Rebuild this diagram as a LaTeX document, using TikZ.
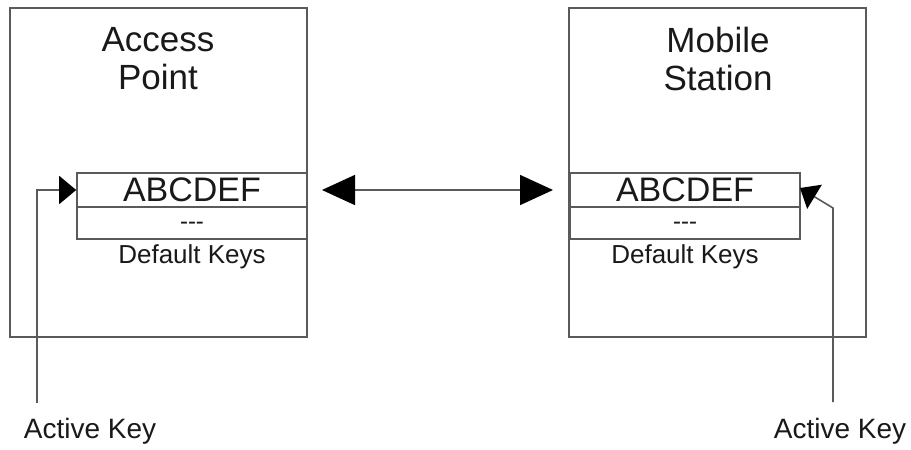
\documentclass[tikz,border=0pt]{standalone}
\usepackage{fontspec}
\setmainfont{Liberation Sans}
\usetikzlibrary{arrows.meta}
\definecolor{ln}{HTML}{5A5A5A}
\tikzset{
  box/.style={draw=ln, line width=1.6pt, inner sep=0pt},
  row/.style={draw=ln, line width=1.6pt, inner sep=0pt, minimum width=230pt},
  lbl/.style={inner sep=0pt, text=black!90},
  conn/.style={draw=ln, line width=1.6pt},
  tipS/.style={-{Triangle[length=17pt,width=28pt,black]}},
  tipB/.style={{Triangle[length=33pt,width=30pt,black]}-{Triangle[length=33pt,width=30pt,black]}}
}
\begin{document}
\begin{tikzpicture}[x=1pt,y=-1pt]
\useasboundingbox (0,0) rectangle (911,450);
% outer boxes
\node[box, minimum width=297pt, minimum height=329pt] (ap) at (158.5,172.5) {};
\node[box, minimum width=297pt, minimum height=329pt] (ms) at (717.5,172.5) {};
% titles
\node[lbl, font=\fontsize{35}{38}\selectfont, align=center] (apt) at (158,59) {Access\\Point};
\node[lbl, font=\fontsize{35}{38}\selectfont, align=center] (mst) at (718,59) {Mobile\\Station};
% key tables
\node[row, minimum height=34pt] (apk) at (192,190) {};
\node[row, minimum height=32pt] (apd) at (192,223) {};
\node[lbl, font=\fontsize{34}{34}\selectfont] (apkt) at (192,190) {ABCDEF};
\node[lbl, font=\fontsize{24}{24}\selectfont] (apdt) at (192,226) {-{}-{}-};
\node[lbl, font=\fontsize{26}{26}\selectfont] (apdl) at (192,257) {Default Keys};
\node[row, minimum height=34pt] (msk) at (685,190) {};
\node[row, minimum height=32pt] (msd) at (685,223) {};
\node[lbl, font=\fontsize{34}{34}\selectfont] (mskt) at (685,190) {ABCDEF};
\node[lbl, font=\fontsize{24}{24}\selectfont] (msdt) at (685,226) {-{}-{}-};
\node[lbl, font=\fontsize{26}{26}\selectfont] (msdl) at (685,257) {Default Keys};
% active key labels
\node[lbl, font=\fontsize{28}{28}\selectfont] (akl) at (90,431) {Active Key};
\node[lbl, font=\fontsize{28}{28}\selectfont] (akr) at (840,431) {Active Key};
% connectors
\coordinate (bl) at (37,403);
\coordinate (br) at (833,402);
\coordinate (bt) at (833,208);
\coordinate (rt) at (800,188);
\coordinate (ml) at (322,190);
\coordinate (mr) at (553,190);
\draw[conn, tipS] (bl) |- (apk.west);
\draw[conn, tipS] (br) -- (bt) -- (rt);
\draw[conn, tipB] (ml) -- (mr);
\end{tikzpicture}
\end{document}
